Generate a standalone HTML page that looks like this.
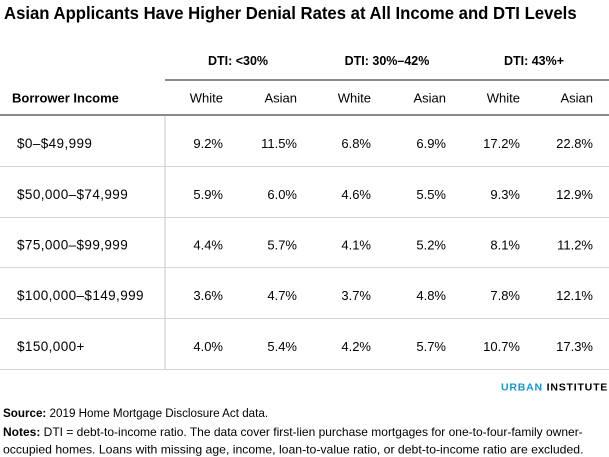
<!DOCTYPE html>
<html><head><meta charset="utf-8"><style>
html,body{margin:0;padding:0;background:#fff;}
svg{display:block;font-family:"Liberation Sans",Arial,sans-serif;}
</style></head><body>
<svg width="609" height="457" viewBox="0 0 609 457" xmlns="http://www.w3.org/2000/svg">
<rect width="609" height="457" fill="#fff"/>
<text transform="translate(4,19) scale(0.929,1)" x="0" y="0" font-size="18" font-weight="bold" fill="#000">Asian Applicants Have Higher Denial Rates at All Income and DTI Levels</text>

<g font-size="12.5" font-weight="bold" fill="#000" text-anchor="middle">
<text x="238" y="65">DTI: &lt;30%</text>
<text x="387" y="65">DTI: 30%–42%</text>
<text x="534" y="65">DTI: 43%+</text>
</g>
<rect x="165" y="79" width="444" height="2" fill="#8a8a8a"/>

<text x="12" y="102.5" font-size="13" font-weight="bold" fill="#000">Borrower Income</text>
<g font-size="13" fill="#000" text-anchor="end">
<text x="223" y="102.5">White</text>
<text x="297" y="102.5">Asian</text>
<text x="371" y="102.5">White</text>
<text x="446" y="102.5">Asian</text>
<text x="520" y="102.5">White</text>
<text x="593" y="102.5">Asian</text>
</g>
<rect x="0" y="114" width="609" height="2" fill="#8a8a8a"/>
<rect x="164" y="116" width="2" height="253" fill="#e3e3e3"/>

<g fill="#d6d6d6">
<rect x="0" y="166" width="609" height="1"/>
<rect x="0" y="217" width="609" height="1"/>
<rect x="0" y="267" width="609" height="1"/>
<rect x="0" y="318" width="609" height="1"/>
<rect x="0" y="369" width="609" height="1"/>
</g>

<g font-size="13.5" fill="#000" letter-spacing="0.4">
<text x="17" y="148">$0–$49,999</text>
<text x="17" y="199">$50,000–$74,999</text>
<text x="17" y="249.5">$75,000–$99,999</text>
<text x="17" y="300">$100,000–$149,999</text>
<text x="17" y="351">$150,000+</text>
</g>

<g font-size="13" fill="#000" text-anchor="end">
<text x="223" y="148">9.2%</text><text x="297" y="148">11.5%</text><text x="371" y="148">6.8%</text><text x="446" y="148">6.9%</text><text x="520" y="148">17.2%</text><text x="593" y="148">22.8%</text>
<text x="223" y="199">5.9%</text><text x="297" y="199">6.0%</text><text x="371" y="199">4.6%</text><text x="446" y="199">5.5%</text><text x="520" y="199">9.3%</text><text x="593" y="199">12.9%</text>
<text x="223" y="249.5">4.4%</text><text x="297" y="249.5">5.7%</text><text x="371" y="249.5">4.1%</text><text x="446" y="249.5">5.2%</text><text x="520" y="249.5">8.1%</text><text x="593" y="249.5">11.2%</text>
<text x="223" y="300">3.6%</text><text x="297" y="300">4.7%</text><text x="371" y="300">3.7%</text><text x="446" y="300">4.8%</text><text x="520" y="300">7.8%</text><text x="593" y="300">12.1%</text>
<text x="223" y="351">4.0%</text><text x="297" y="351">5.4%</text><text x="371" y="351">4.2%</text><text x="446" y="351">5.7%</text><text x="520" y="351">10.7%</text><text x="593" y="351">17.3%</text>
</g>

<text x="501" y="390.5" font-size="10.5" font-weight="bold" letter-spacing="0.8"><tspan fill="#1696d2">URBAN</tspan><tspan fill="#000"> INSTITUTE</tspan></text>

<g font-size="12" fill="#000">
<text transform="translate(3,417) scale(0.97,1)" x="0" y="0"><tspan font-weight="bold">Source:</tspan> 2019 Home Mortgage Disclosure Act data.</text>
<text transform="translate(3,436) scale(1,1)" x="0" y="0"><tspan font-weight="bold">Notes:</tspan> DTI = debt-to-income ratio. The data cover first-lien purchase mortgages for one-to-four-family owner-</text>
<text transform="translate(3,453.5) scale(1.02,1)" x="0" y="0">occupied homes. Loans with missing age, income, loan-to-value ratio, or debt-to-income ratio are excluded.</text>
</g>
</svg>
</body></html>
